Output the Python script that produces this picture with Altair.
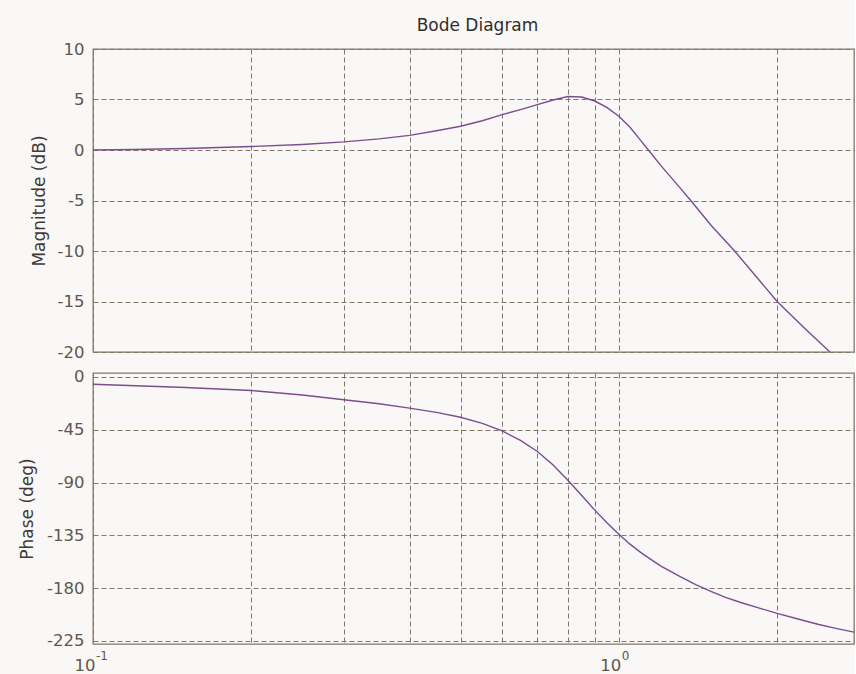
import altair as alt
import pandas as pd

# ---- data ----
w_mag = [0.1, 0.12, 0.15, 0.2, 0.25, 0.3, 0.35, 0.4, 0.45, 0.5, 0.55, 0.6, 0.65, 0.7,
         0.75, 0.8, 0.85, 0.9, 0.95, 1.0, 1.05, 1.1, 1.15, 1.2, 1.3, 1.37, 1.5, 1.66,
         2.0, 2.25, 2.52]
mag_db = [0.0, 0.05, 0.15, 0.35, 0.55, 0.8, 1.1, 1.45, 1.9, 2.35, 2.9, 3.5, 4.0, 4.5,
          4.95, 5.3, 5.25, 4.85, 4.2, 3.35, 2.25, 0.95, -0.3, -1.5, -3.6, -5.0, -7.5,
          -10.0, -15.0, -17.6, -20.0]

w_ph = [0.1, 0.15, 0.2, 0.25, 0.3, 0.35, 0.4, 0.45, 0.5, 0.55, 0.6, 0.65, 0.7, 0.75,
        0.8, 0.85, 0.9, 0.95, 1.0, 1.05, 1.1, 1.15, 1.2, 1.3, 1.4, 1.5, 1.6, 1.7, 1.85,
        2.0, 2.2, 2.4, 2.6, 2.8]
phase_deg = [-6.2, -9.0, -11.5, -15.3, -19.4, -22.8, -26.5, -30.2, -34.3, -39.5, -46.0,
             -54.0, -63.5, -75.0, -88.0, -101.0, -113.5, -124.5, -134.0, -142.5, -149.5,
             -155.5, -161.0, -169.5, -177.0, -183.0, -188.0, -192.0, -197.0, -201.5,
             -206.5, -211.0, -214.5, -217.5]

x_grid = [0.1, 0.2, 0.3, 0.4, 0.5, 0.6, 0.7, 0.8, 0.9, 1.0, 2.0]
mag_ticks = [10, 5, 0, -5, -10, -15, -20]
phase_ticks = [0, -45, -90, -135, -180, -225]
x_label_pos = [0.1, 1.0]
x_label_base = ["10", "10"]
x_label_exp = ["-1", "0"]

mag_df = pd.DataFrame({"w": w_mag, "db": mag_db})
ph_df = pd.DataFrame({"w": w_ph, "deg": phase_deg})
lab_df = pd.DataFrame({"w": x_label_pos, "base": x_label_base, "exp": x_label_exp})

BG = "#f9f8f6"
GRID = "#827869"
LINE = "#7b4d8d"
LABEL = "#5f574e"
FONT = "DejaVu Sans"

xscale = alt.Scale(type="log", domain=[0.1, 2.8], nice=False)

common_axis = dict(grid=True, gridDash=[5, 3], gridColor=GRID, gridOpacity=1, gridWidth=1,
                   domain=False, ticks=False, labelFont=FONT, labelFontSize=16.5,
                   labelColor=LABEL, titleFont=FONT, titleFontSize=17,
                   titleFontWeight="normal", titleColor="#3f3a37")

top = alt.Chart(mag_df).mark_line(color=LINE, strokeWidth=1.4, clip=True).encode(
    x=alt.X("w:Q", scale=xscale,
            axis=alt.Axis(values=x_grid, labels=False, title=None, **common_axis)),
    y=alt.Y("db:Q", scale=alt.Scale(domain=[-20, 10], nice=False, zero=False),
            axis=alt.Axis(values=mag_ticks, title="Magnitude (dB)", labelPadding=9,
                          titlePadding=9, labelExpr="datum.value + ''", **common_axis)),
).properties(
    width=761, height=303,
    title=alt.TitleParams("Bode Diagram", anchor="middle", font=FONT, fontSize=17,
                          fontWeight="normal", color="#2f2d2d", offset=6, dx=4),
)

ph_line = alt.Chart(ph_df).mark_line(color=LINE, strokeWidth=1.4, clip=True).encode(
    x=alt.X("w:Q", scale=xscale,
            axis=alt.Axis(values=x_grid, title=None, labels=False, **common_axis)),
    y=alt.Y("deg:Q", scale=alt.Scale(domain=[-227.6, 3.4], nice=False, zero=False),
            axis=alt.Axis(values=phase_ticks, title="Phase (deg)", labelPadding=9,
                          titlePadding=10, labelExpr="datum.value + ''", **common_axis)),
)

base_lab = alt.Chart(lab_df).mark_text(
    font=FONT, fontSize=16.5, color=LABEL, align="center", baseline="alphabetic", dx=-8
).encode(x=alt.X("w:Q", scale=xscale), y=alt.value(298), text="base:N")

exp_lab = alt.Chart(lab_df).mark_text(
    font=FONT, fontSize=12, color=LABEL, align="left", baseline="alphabetic", dx=3
).encode(x=alt.X("w:Q", scale=xscale), y=alt.value(287), text="exp:N")

bottom = alt.layer(ph_line, base_lab, exp_lab).properties(width=761, height=271)

chart = alt.vconcat(top, bottom, spacing=6).properties(
    background=BG,
    padding={"left": 17, "top": 16, "right": 0, "bottom": 0},
).configure_view(stroke=GRID, strokeWidth=1.3, fill=BG)

chart.save("out.html", embed_options={"renderer": "svg", "actions": False})
